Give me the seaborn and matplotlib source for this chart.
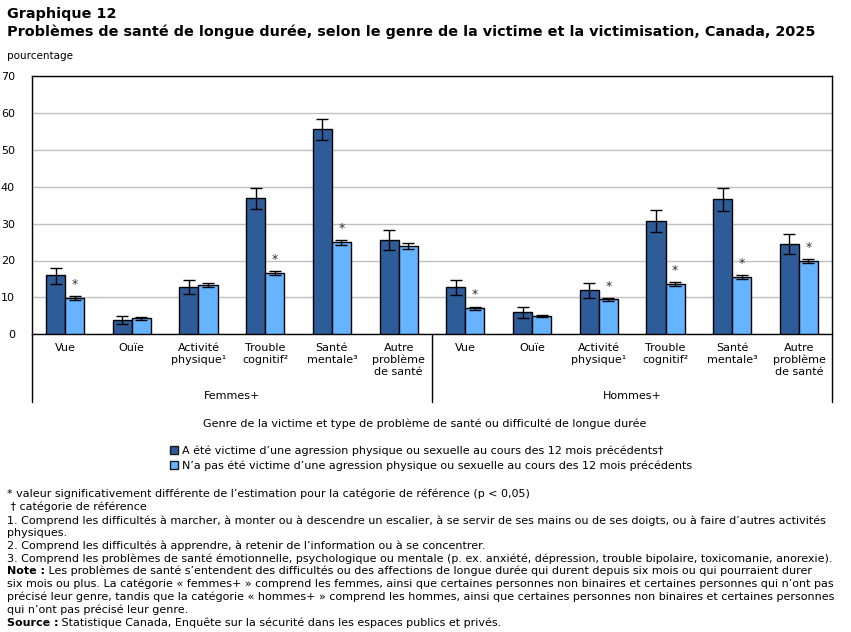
import numpy as np
import pandas as pd
import matplotlib
matplotlib.use("Agg")
import matplotlib.pyplot as plt
import seaborn as sns
from matplotlib.patches import Patch

# categories (same six for each gender group)
problemes = ["Vue", "Ouïe", "Activité\nphysique¹", "Trouble\ncognitif²",
             "Santé\nmentale³", "Autre\nproblème\nde santé"]
genres = ["Femmes+", "Hommes+"]

series = ["A été victime d’une agression physique ou sexuelle au cours des 12 mois précédents†",
          "N’a pas été victime d’une agression physique ou sexuelle au cours des 12 mois précédents"]

# victims (reference category)
vict_f = [16.0, 3.8, 12.7, 36.9, 55.6, 25.5]
vict_f_lo = [13.6, 2.7, 10.8, 33.9, 52.6, 22.8]
vict_f_hi = [17.9, 4.9, 14.6, 39.6, 58.3, 28.2]
vict_h = [12.7, 6.0, 11.9, 30.6, 36.6, 24.4]
vict_h_lo = [10.6, 4.3, 9.8, 27.6, 33.3, 21.7]
vict_h_hi = [14.6, 7.3, 13.8, 33.6, 39.6, 27.1]

# non victims
non_f = [9.8, 4.3, 13.3, 16.5, 24.9, 23.8]
non_f_lo = [9.4, 4.0, 12.8, 16.0, 24.2, 23.2]
non_f_hi = [10.3, 4.6, 13.8, 17.1, 25.5, 24.7]
non_h = [7.0, 4.9, 9.5, 13.5, 15.4, 19.8]
non_h_lo = [6.6, 4.7, 8.9, 13.1, 14.9, 19.2]
non_h_hi = [7.5, 5.1, 9.8, 14.1, 16.0, 20.3]

# significance markers (non victims only)
sig_f = [True, False, False, True, True, False]
sig_h = [True, False, True, True, True, True]

DARK = "#2e5c98"
LIGHT = "#66b3ff"

# build long table
keys = [g + "|" + p for g in genres for p in problemes]
rows = []
vict = vict_f + vict_h
non = non_f + non_h
for k, v, n in zip(keys, vict, non):
    rows.append({"cat": k, "serie": series[0], "val": v})
    rows.append({"cat": k, "serie": series[1], "val": n})
df = pd.DataFrame(rows)

sns.set_style("white")
plt.rcParams["font.family"] = ["DejaVu Sans"]
plt.rcParams["text.color"] = "black"
plt.rcParams["xtick.color"] = "black"
plt.rcParams["ytick.color"] = "black"

fig = plt.figure(figsize=(8.51, 6.32), dpi=100)
ax = fig.add_axes([31.7 / 851, 1 - 334.3 / 632, (832.3 - 31.7) / 851, (334.3 - 76) / 632])

sns.barplot(data=df, x="cat", y="val", hue="serie", order=keys, hue_order=series,
            palette=[DARK, LIGHT], saturation=1, width=0.57, gap=0, edgecolor="black",
            linewidth=1, errorbar=None, ax=ax, legend=False, zorder=3)

# error bars + stars
lo_all = [vict_f_lo + vict_h_lo, non_f_lo + non_h_lo]
hi_all = [vict_f_hi + vict_h_hi, non_f_hi + non_h_hi]
vals_all = [vict, non]
sig = sig_f + sig_h
bar_conts = list(ax.containers)
for i, cont in enumerate(bar_conts):
    xs = [b.get_x() + b.get_width() / 2 for b in cont]
    v = np.array(vals_all[i])
    lo = v - np.array(lo_all[i])
    hi = np.array(hi_all[i]) - v
    ax.errorbar(xs, v, yerr=[lo, hi], fmt="none", ecolor="black",
                elinewidth=1, capsize=4, capthick=1, zorder=4)
    if i == 1:
        for x, top, s in zip(xs, hi_all[i], sig):
            if s:
                ax.annotate("*", (x, top), xytext=(0, 4), textcoords="offset points",
                            ha="center", va="bottom", fontsize=9, color="#333333")

ax.set_ylim(0, 70)
ax.set_xlim(-0.5, len(keys) - 0.5)
ax.set_yticks(range(0, 71, 10))
ax.yaxis.grid(True, color="#c0c0c0", linewidth=1)
ax.set_axisbelow(True)
ax.tick_params(axis="y", length=0, pad=12, labelsize=8)
ax.tick_params(axis="x", length=0, pad=6, labelsize=8)
ax.set_xticks(range(len(keys)))
ax.set_xticklabels(problemes * 2, linespacing=1.25, va="top")
ax.set_xlabel("")
ax.set_ylabel("")
for sp in ax.spines.values():
    sp.set_color("black")
    sp.set_linewidth(1)

# group separators and group labels under the axis
for xpos in [-0.5, 5.5, 11.5]:
    ax.plot([xpos, xpos], [0, -0.262], transform=ax.get_xaxis_transform(),
            color="black", lw=1, clip_on=False)
for j, g in enumerate(genres):
    ax.text(2.5 + 6 * j, -0.238, g, transform=ax.get_xaxis_transform(),
            ha="center", va="center", fontsize=8)

W, H = 851, 632


def ft(x, y, s, **kw):
    return fig.text(x / W, 1 - y / H, s, va="center", **kw)


ft(7, 14, "Graphique 12", fontsize=10.4, fontweight="bold")
ft(7, 32, "Problèmes de santé de longue durée, selon le genre de la victime et la victimisation, Canada, 2025",
   fontsize=10.4, fontweight="bold")
ft(7, 56, "pourcentage", fontsize=7.5)

ft(425, 424, "Genre de la victime et type de problème de santé ou difficulté de longue durée",
   fontsize=8, ha="center")

# legend
handles = [Patch(facecolor=DARK, edgecolor="#1a1a1a"), Patch(facecolor=LIGHT, edgecolor="#1a1a1a")]
fig.legend(handles, series, loc="upper left", bbox_to_anchor=(170 / W, 1 - 445 / H),
           frameon=False, fontsize=8, handlelength=0.75, handleheight=0.75,
           handletextpad=0.3, labelspacing=0.45, borderaxespad=0, borderpad=0)

fs = 8.0
notes = [
    (494, "* valeur significativement différente de l’estimation pour la catégorie de référence (p < 0,05)"),
    (507, " † catégorie de référence"),
    (521, "1. Comprend les difficultés à marcher, à monter ou à descendre un escalier, à se servir de ses mains ou de ses doigts, ou à faire d’autres activités"),
    (533, "physiques."),
    (546, "2. Comprend les difficultés à apprendre, à retenir de l’information ou à se concentrer."),
    (559, "3. Comprend les problèmes de santé émotionnelle, psychologique ou mentale (p. ex. anxiété, dépression, trouble bipolaire, toxicomanie, anorexie)."),
    (584, "six mois ou plus. La catégorie « femmes+ » comprend les femmes, ainsi que certaines personnes non binaires et certaines personnes qui n’ont pas"),
    (597, "précisé leur genre, tandis que la catégorie « hommes+ » comprend les hommes, ainsi que certaines personnes non binaires et certaines personnes"),
    (610, "qui n’ont pas précisé leur genre."),
]
for y, s in notes:
    ft(7, y, s, fontsize=fs)

fig.canvas.draw()
r = fig.canvas.get_renderer()
for y, b, rest in [(571, "Note :", " Les problèmes de santé s’entendent des difficultés ou des affections de longue durée qui durent depuis six mois ou qui pourraient durer"),
                   (623, "Source :", " Statistique Canada, Enquête sur la sécurité dans les espaces publics et privés.")]:
    t = ft(7, y, b, fontsize=fs, fontweight="bold")
    bb = t.get_window_extent(renderer=r)
    fig.text(bb.x1 / W, 1 - y / H, rest, va="center", fontsize=fs)

fig.savefig("out.png", dpi=100)
